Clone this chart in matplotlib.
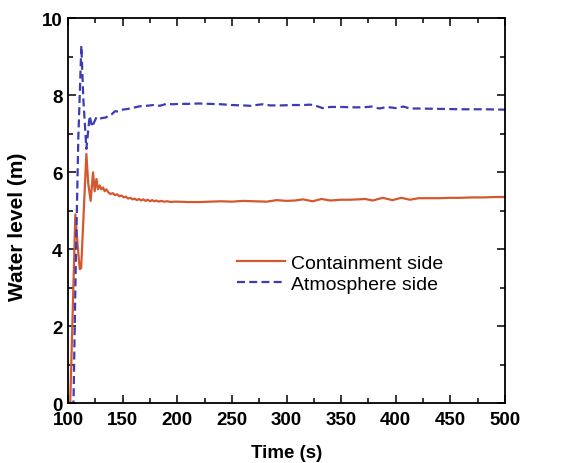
import numpy as np
import matplotlib
matplotlib.use("Agg")
import matplotlib.pyplot as plt
from matplotlib.ticker import MultipleLocator

plt.rcParams['font.family'] = ['Liberation Sans', 'DejaVu Sans']

# containment side (solid orange)
cont_t = [100, 102, 104.5, 106.7, 108.5, 110.7, 112, 116.8, 118.5, 120.7, 122.9, 124.4, 126,
          127.5, 129, 130.5, 132, 133.5, 135, 137, 138.7, 141, 143, 145, 147, 149, 151, 153,
          155, 157, 159, 161, 163, 165, 167, 169, 171, 173, 175, 177, 179, 181, 183, 185, 188,
          191, 194, 197, 200, 210, 220, 230, 240, 250, 260, 270, 282, 291, 300, 308, 315, 324,
          332, 340, 350, 358, 366, 372, 379, 388, 397, 405, 413, 421, 430, 440, 450, 460, 470,
          480, 490, 500]
cont_h = [0, 0, 2.6, 4.9, 4.2, 3.48, 3.5, 6.47, 5.7, 5.25, 5.99, 5.5, 5.82,
          5.55, 5.65, 5.55, 5.6, 5.5, 5.55, 5.47, 5.43, 5.45, 5.40, 5.42, 5.37, 5.39, 5.34, 5.36,
          5.31, 5.33, 5.29, 5.31, 5.27, 5.30, 5.26, 5.29, 5.25, 5.28, 5.24, 5.27, 5.24, 5.26, 5.23, 5.25, 5.23,
          5.24, 5.22, 5.23, 5.23, 5.22, 5.22, 5.23, 5.24, 5.23, 5.25, 5.24, 5.23, 5.27, 5.25, 5.26, 5.29, 5.24,
          5.30, 5.26, 5.28, 5.28, 5.29, 5.30, 5.26, 5.33, 5.27, 5.33, 5.28, 5.32, 5.32, 5.32, 5.33, 5.33, 5.34,
          5.34, 5.35, 5.35]

# atmosphere side (dashed blue)
atm_t = [100, 104, 105, 106.9, 109.4, 112.2, 114, 116.8, 119.8, 122, 124, 126, 128, 131, 135,
         137, 140, 143, 146, 150, 155, 160, 166, 172, 178, 184, 190, 196, 202, 210, 220, 230,
         240, 250, 260, 267, 272, 278, 285, 295, 305, 315, 322, 328, 333, 340, 350, 360, 370,
         378, 385, 392, 400, 407, 413, 420, 440, 460, 480, 500]
atm_h = [0, 0, 0, 3.3, 6.86, 9.28, 7.9, 6.6, 7.46, 7.17, 7.3, 7.42, 7.38, 7.40, 7.42,
         7.47, 7.5, 7.58, 7.57, 7.62, 7.64, 7.67, 7.71, 7.72, 7.74, 7.72, 7.77, 7.76, 7.77, 7.77, 7.78, 7.77,
         7.76, 7.74, 7.73, 7.72, 7.74, 7.76, 7.73, 7.73, 7.74, 7.74, 7.75, 7.71, 7.66, 7.69, 7.69, 7.68, 7.68,
         7.70, 7.65, 7.69, 7.66, 7.70, 7.65, 7.65, 7.64, 7.63, 7.63, 7.62]

fig = plt.figure(figsize=(5.65, 4.64), dpi=100)
ax = fig.add_axes([0.1204, 0.1293, 0.7734, 0.8297])

ax.plot(cont_t, cont_h, color='#D4582F', lw=1.6, label='Containment side')
ax.plot(atm_t, atm_h, color='#3C3CB4', lw=1.6, ls=(0, (3.6, 1.9)), label='Atmosphere side')

ax.set_xlim(100, 500)
ax.set_ylim(0, 10)
ax.xaxis.set_major_locator(MultipleLocator(50))
ax.xaxis.set_minor_locator(MultipleLocator(25))
ax.yaxis.set_major_locator(MultipleLocator(2))
ax.yaxis.set_minor_locator(MultipleLocator(1))
ax.tick_params(which='both', direction='in', top=True, right=True, width=1.1)
ax.tick_params(which='major', length=6, labelsize=13.5)
ax.tick_params(axis='x', which='major', pad=6)
ax.tick_params(axis='y', which='major', pad=4)
ax.tick_params(which='minor', length=3.5)
for lab in ax.get_xticklabels() + ax.get_yticklabels():
    lab.set_fontweight('bold')
for s in ax.spines.values():
    s.set_linewidth(1.3)

ax.set_xlabel('Time (s)', fontsize=13.5, fontweight='bold', labelpad=11)
ax.set_ylabel('Water level (m)', fontsize=15, fontweight='bold')
ax.yaxis.set_label_coords(-0.093, 0.46)

ax.legend(loc='center left', bbox_to_anchor=(0.387, 0.336), frameon=False, fontsize=14,
          borderpad=0, borderaxespad=0, handlelength=2.45, handletextpad=0.3, labelspacing=0.15)

fig.savefig('out.png', dpi=100)
